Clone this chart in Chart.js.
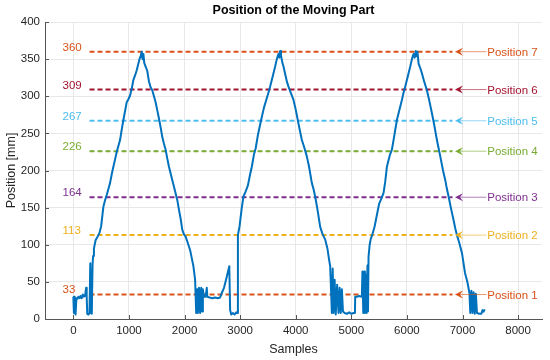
<!doctype html>
<html>
<head>
  <title>Position of the Moving Part</title>
  <script src="https://cdn.jsdelivr.net/npm/chart.js@4.4.1/dist/chart.umd.min.js"></script>
  <style>
    html, body { margin: 0; padding: 0; background: #fff; }
    #wrap { width: 550px; height: 360px; }
  </style>
</head>
<body>
<div id="wrap"><canvas id="chart" width="550" height="360"></canvas></div>
<script>
  const sampleX = [
    0, 10, 25, 40, 55, 70, 90, 110, 130, 150, 170, 190, 210, 230, 240, 250, 270, 290, 305, 318, 332, 345, 355, 370,
    400, 430, 470, 500, 540, 570, 600, 630, 660, 690, 720, 750, 780, 810, 840, 870, 900, 930, 960, 990, 1020, 1050,
    1080, 1110, 1140, 1170, 1200, 1215, 1230, 1245, 1260, 1275, 1300, 1330, 1360, 1390, 1420, 1450, 1480, 1510,
    1540, 1570, 1600, 1630, 1660, 1690, 1720, 1750, 1780, 1810, 1840, 1870, 1900, 1930, 1960, 1990, 2020, 2060,
    2100, 2130, 2160, 2190, 2210, 2225, 2240, 2260, 2280, 2300, 2315, 2330, 2350, 2380, 2400, 2410, 2450, 2500,
    2550, 2600, 2640, 2670, 2710, 2760, 2805, 2820, 2840, 2870, 2900, 2930, 2950,
    2960, 2990, 3030, 3060, 3100, 3140, 3180, 3210, 3250, 3280, 3320, 3360, 3390, 3430, 3470, 3510, 3540, 3580,
    3630, 3660, 3690, 3705, 3720, 3735, 3760, 3780, 3810, 3840, 3870, 3910, 3960, 4000, 4050, 4080, 4110, 4150,
    4200, 4240, 4290, 4320, 4350, 4390, 4440, 4480, 4530, 4570, 4600, 4620, 4650, 4665, 4680, 4700, 4720, 4745,
    4770, 4790, 4810, 4830, 4850, 4880, 4920, 4960, 5000, 5040, 5065, 5070, 5100, 5140, 5190, 5200, 5215, 5230,
    5245, 5260, 5275, 5290, 5300,
    5310, 5330, 5350, 5380, 5420, 5460, 5500, 5540, 5580, 5610, 5640, 5690, 5730, 5780, 5820, 5860, 5910, 5940,
    5970, 6010, 6060, 6090, 6120, 6140, 6160, 6175, 6190, 6210, 6240, 6270, 6310, 6360, 6400, 6450, 6490, 6540,
    6570, 6600, 6650, 6690, 6720, 6750, 6790, 6840, 6870, 6900, 6940, 6990, 7045, 7090, 7125, 7140, 7160, 7180,
    7200, 7220, 7240, 7260, 7300, 7340, 7360, 7380, 7400
  ];
  const posY = [
    30, 8, 30, 6, 28, 27, 30, 28, 31, 28, 33, 30, 31, 42, 30, 7, 6, 8, 75, 8, 7, 72, 85, 95,
    106, 110, 116, 125, 151, 160, 167, 175, 183, 195, 205, 215, 225, 233, 241, 255, 268, 280, 292, 296, 301, 310,
    322, 328, 335, 344, 353, 356, 360, 350, 357, 345, 340, 334, 320, 312, 308, 300, 292, 281,
    270, 258, 245, 236, 228, 216, 205, 196, 187, 178, 169, 160, 147, 135, 120, 114, 111, 102,
    93, 82, 71, 53, 8, 40, 8, 42, 8, 42, 10, 40, 30, 30, 42, 30, 29, 28,
    29, 28, 29, 35, 42, 57, 71, 12, 6, 8, 6, 9, 8,
    113, 125, 150, 165, 172, 180, 195, 205, 222, 230, 248, 262, 272, 285, 295, 305, 313, 325,
    340, 350, 357, 352, 361, 355, 345, 340, 330, 320, 313, 305, 295, 282, 263, 252, 241, 232,
    219, 205, 183, 175, 165, 148, 124, 115, 107, 95, 80, 71, 8, 68, 8, 53, 6, 46,
    8, 42, 8, 40, 10, 8, 7, 9, 7, 8, 8, 30, 30, 31, 30, 64, 8, 64,
    8, 60, 8, 72, 10,
    84, 100, 108, 114, 125, 140, 155, 162, 170, 185, 205, 220, 228, 250, 268, 280, 295, 305,
    313, 325, 340, 350, 357, 352, 361, 354, 360, 344, 338, 331, 320, 308, 295, 277, 262, 241,
    230, 219, 200, 187, 175, 165, 150, 133, 122, 113, 103, 89, 62, 49, 35, 8, 38, 8,
    36, 7, 34, 8, 7, 7, 12, 10, 13
  ];

  // reference levels
  const levels = [33, 113, 164, 226, 267, 309, 360];
  const levelNames = ['Position 1', 'Position 2', 'Position 3', 'Position 4', 'Position 5', 'Position 6', 'Position 7'];
  const levelColors = ['#D95319', '#EDB120', '#7E2F8E', '#77AC30', '#4DBEEE', '#A2142F', '#D95319'];
  const xTicks = [0, 1000, 2000, 3000, 4000, 5000, 6000, 7000, 8000];
  const yTicks = [0, 50, 100, 150, 200, 250, 300, 350, 400];

  const lineStart = 291, lineEnd = 6820;     // dashed level lines
  const arrowTip = 6865, arrowTail = 7430;   // arrow to the right-hand labels
  const valueLabelX = -195, nameLabelX = 7445;

  const FONT = "'Liberation Sans', Arial, Helvetica, sans-serif";
  const AXIS = '#555555';

  const datasets = [{
    label: 'trace',
    data: sampleX.map((x, i) => ({ x: x, y: posY[i] })),
    borderColor: '#0072BD',
    borderWidth: 2,
    borderJoinStyle: 'round',
    pointRadius: 0,
    tension: 0,
    order: 0
  }];
  levels.forEach((v, i) => {
    datasets.push({
      label: levelNames[i],
      data: [{ x: lineStart, y: v }, { x: lineEnd, y: v }],
      borderColor: levelColors[i],
      borderWidth: 2,
      borderDash: [5, 3],
      pointRadius: 0,
      order: 1
    });
  });

  const annotate = {
    id: 'annotate',
    afterDatasetsDraw(chart) {
      const ctx = chart.ctx, xs = chart.scales.x, ys = chart.scales.y;
      ctx.save();
      ctx.font = '11.5px ' + FONT;
      levels.forEach((v, i) => {
        const py = ys.getPixelForValue(v);
        const c = levelColors[i];
        // value on the left
        ctx.fillStyle = c;
        ctx.textAlign = 'left';
        ctx.textBaseline = 'alphabetic';
        ctx.fillText(String(v), xs.getPixelForValue(valueLabelX), py - 1);
        // arrow
        const tip = xs.getPixelForValue(arrowTip), tail = xs.getPixelForValue(arrowTail);
        ctx.strokeStyle = c;
        ctx.globalAlpha = 0.6;
        ctx.lineWidth = 1;
        ctx.beginPath();
        ctx.moveTo(tip + 4, py);
        ctx.lineTo(tail, py);
        ctx.stroke();
        ctx.globalAlpha = 1;
        ctx.beginPath();
        ctx.moveTo(tip, py);
        ctx.lineTo(tip + 8, py - 4);
        ctx.lineTo(tip + 5, py);
        ctx.lineTo(tip + 8, py + 4);
        ctx.closePath();
        ctx.fill();
        // name on the right
        ctx.textBaseline = 'middle';
        ctx.fillText(levelNames[i], xs.getPixelForValue(nameLabelX), py + 1);
      });
      ctx.restore();
    },
    afterDraw(chart) {
      const ctx = chart.ctx, xs = chart.scales.x, ys = chart.scales.y, a = chart.chartArea;
      ctx.save();
      // inward tick marks like matlab
      ctx.strokeStyle = AXIS;
      ctx.lineWidth = 1;
      ctx.beginPath();
      xTicks.forEach(t => {
        const px = Math.round(xs.getPixelForValue(t)) + 0.5;
        ctx.moveTo(px, a.bottom);
        ctx.lineTo(px, a.bottom - 4);
      });
      yTicks.forEach(t => {
        const py = Math.round(ys.getPixelForValue(t)) + 0.5;
        ctx.moveTo(a.left, py);
        ctx.lineTo(a.left + 4, py);
      });
      ctx.stroke();
      // title
      ctx.fillStyle = '#000';
      ctx.font = 'bold 12.5px ' + FONT;
      ctx.textAlign = 'center';
      ctx.textBaseline = 'middle';
      ctx.fillText('Position of the Moving Part', (a.left + a.right) / 2, 11);
      ctx.restore();
    }
  };

  new Chart(document.getElementById('chart').getContext('2d'), {
    type: 'line',
    data: { datasets: datasets },
    options: {
      responsive: false,
      animation: false,
      layout: { padding: { left: 0, right: 8, top: 22, bottom: 0 } },
      plugins: {
        legend: { display: false },
        tooltip: { enabled: false },
        title: { display: false }
      },
      scales: {
        x: {
          type: 'linear',
          min: -510,
          max: 8430,
          afterBuildTicks: s => { s.ticks = xTicks.map(v => ({ value: v })); },
          afterFit: s => { s.height = 41; },
          grid: { color: '#e8e8e8', drawTicks: false },
          border: { display: true, color: AXIS },
          ticks: {
            color: '#262626', font: { family: FONT, size: 11.5 }, padding: 5, maxRotation: 0,
            callback: v => String(v)
          },
          title: { display: true, text: 'Samples', color: '#262626', font: { family: FONT, size: 12.5 }, padding: { top: 0, bottom: 3 } }
        },
        y: {
          type: 'linear',
          min: 0,
          max: 400,
          afterBuildTicks: s => { s.ticks = yTicks.map(v => ({ value: v })); },
          afterFit: s => { s.width = 45; },
          grid: { color: '#e8e8e8', drawTicks: false },
          border: { display: true, color: AXIS },
          ticks: { color: '#262626', font: { family: FONT, size: 11.5 }, padding: 5, callback: v => String(v) },
          title: { display: true, text: 'Position [mm]', color: '#262626', font: { family: FONT, size: 12.5 }, padding: { top: 4, bottom: 0 } }
        }
      }
    },
    plugins: [annotate]
  });
</script>
</body>
</html>
